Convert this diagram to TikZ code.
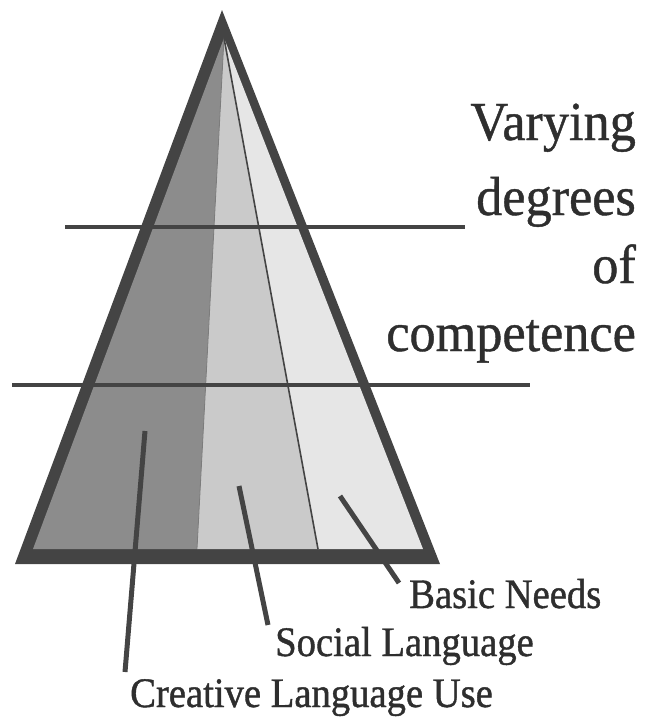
\documentclass[tikz,border=0pt]{standalone}
\usepackage{fontspec}
\setmainfont{Liberation Serif}
\newfontfamily\sidefont[FakeStretch=0.95,FakeBold=0.8]{Liberation Serif}
\newfontfamily\labelfont[FakeStretch=0.92,FakeBold=1.0]{Liberation Serif}
\definecolor{ink}{HTML}{444444}
\definecolor{textink}{HTML}{2E2E2E}
\definecolor{creativefill}{HTML}{8C8C8C}
\definecolor{socialfill}{HTML}{CACACA}
\definecolor{basicfill}{HTML}{E6E6E6}
\begin{document}
\begin{tikzpicture}[x=1pt,y=-1pt,
  bar/.style={draw=ink,line width=4pt},
  leader/.style={draw=ink,line width=5pt},
  sidetext/.style={inner sep=0pt,anchor=base east,text=textink,font=\sidefont\fontsize{55}{55}\selectfont},
  bottomtext/.style={inner sep=0pt,anchor=base west,text=textink,font=\labelfont\fontsize{42}{42}\selectfont}]
\useasboundingbox (0,0) rectangle (645,724);
% outer triangle (border)
\coordinate (OA) at (222,10);
\coordinate (OL) at (15,564);
\coordinate (OR) at (440,564);
\fill[ink] (OA) -- (OR) -- (OL) -- cycle;
% inner regions
\coordinate (A) at (224,38);
\coordinate (BL) at (33,549);
\coordinate (BR) at (423,549);
\coordinate (D1) at (197,549);
\coordinate (D2) at (318,549);
\fill[creativefill] (A) -- (D1) -- (BL) -- cycle;
\fill[socialfill] (A) -- (D2) -- (D1) -- cycle;
\fill[basicfill] (A) -- (BR) -- (D2) -- cycle;
\draw[ink!70,line width=0.8pt] (A) -- (D1);
\draw[ink,line width=1.6pt] (A) -- (D2);
% horizontal level lines
\coordinate (H1a) at (65,227);
\coordinate (H1b) at (465,227);
\coordinate (H2a) at (12,385);
\coordinate (H2b) at (530,385);
\draw[bar] (H1a) -- (H1b);
\draw[bar] (H2a) -- (H2b);
% side text
\node[sidetext] (varying) at (636,140) {Varying};
\node[sidetext] (degrees) at (636,215) {degrees};
\node[sidetext] (of) at (636,283) {of};
\node[sidetext] (competence) at (636,351) {competence};
% bottom labels
\node[bottomtext] (basic) at (409,608) {Basic Needs};
\node[bottomtext] (social) at (275,656) {Social Language};
\node[bottomtext] (creative) at (130,707) {Creative Language Use};
% leaders
\coordinate (c1) at (145,431);
\coordinate (c2) at (125,672);
\coordinate (s1) at (239,486);
\coordinate (s2) at (268,625);
\coordinate (b1) at (340,496);
\coordinate (b2) at (399,583);
\draw[leader] (c1) -- (c2);
\draw[leader] (s1) -- (s2);
\draw[leader] (b1) -- (b2);
\end{tikzpicture}
\end{document}
